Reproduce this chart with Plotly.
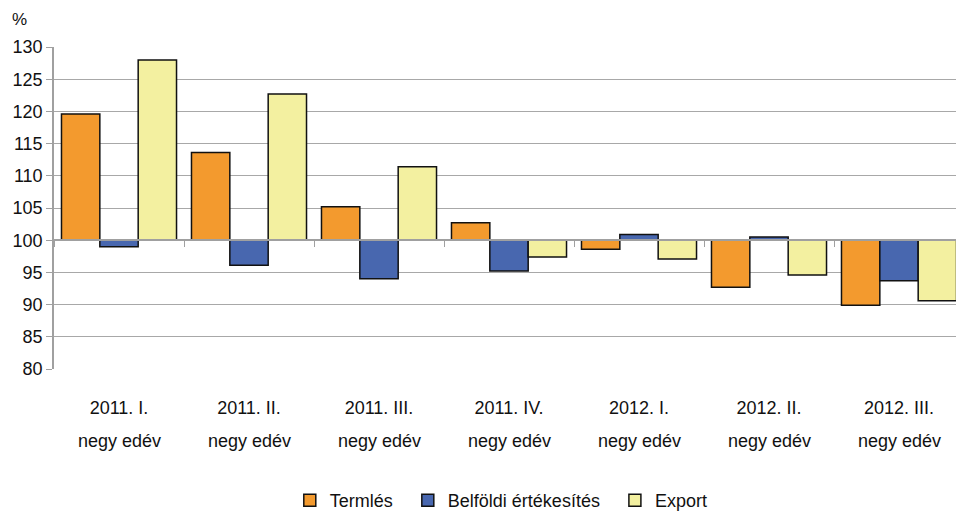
import plotly.graph_objects as go

categories = ["2011. I.", "2011. II.", "2011. III.", "2011. IV.", "2012. I.", "2012. II.", "2012. III."]
sub_label = "negy edév"
termeles = [119.6, 113.6, 105.2, 102.7, 98.6, 92.7, 89.9]
belfoldi = [99.0, 96.1, 94.0, 95.2, 100.9, 100.5, 93.7]
export = [128.0, 122.7, 111.4, 97.4, 97.1, 94.6, 90.6]
series_names = ["Termlés", "Belföldi értékesítés", "Export"]
colors = ["#F39A2E", "#4867AF", "#F3F0A0"]
base_value = 100
y_ticks = list(range(80, 131, 5))

FONT = "Liberation Sans, Arial, sans-serif"
PAD = "\u00a0\u00a0"

fig = go.Figure()
for i, (name, vals, col) in enumerate(zip(series_names, [termeles, belfoldi, export], colors)):
    fig.add_trace(go.Bar(
        x=categories, y=[v - base_value for v in vals], base=base_value,
        name=name + (PAD if i < len(series_names) - 1 else ""),
        marker=dict(color=col, line=dict(color="#111111", width=1.5)),
        customdata=vals, hovertemplate="%{x}: %{customdata}<extra>" + name + "</extra>",
    ))

for c in categories:
    fig.add_annotation(x=c, xref="x", y=0, yref="paper", yanchor="top",
                       text=sub_label, showarrow=False, yshift=-60,
                       font=dict(family=FONT, size=18, color="#111111"))

fig.add_annotation(x=0, xref="paper", xanchor="left", y=1, yref="paper", yanchor="middle",
                   text="%", showarrow=False, xshift=-44, yshift=28,
                   font=dict(family=FONT, size=17, color="#111111"))

fig.update_layout(
    width=956, height=511,
    margin=dict(l=46, r=0, t=39, b=150, autoexpand=False),
    paper_bgcolor="white", plot_bgcolor="white",
    barmode="group", bargap=0.115, bargroupgap=0,
    font=dict(family=FONT, size=18, color="#111111"),
    showlegend=True,
    legend=dict(orientation="h", xref="container", x=0.516, xanchor="center",
                yref="container", y=0.0, yanchor="bottom",
                font=dict(family=FONT, size=18, color="#111111"),
                itemwidth=30, traceorder="normal"),
    xaxis=dict(type="category", categoryorder="array", categoryarray=categories,
               showgrid=False, showline=False, ticks="", automargin=False,
               ticklabelstandoff=26, tickfont=dict(size=18)),
    xaxis2=dict(type="category", categoryorder="array", categoryarray=categories,
                overlaying="x", matches="x", anchor="free", position=0.4,
                showline=True, linecolor="#A0A0A0", linewidth=1.5, automargin=False,
                ticks="outside", tickson="boundaries", ticklen=6, tickcolor="#A0A0A0",
                showticklabels=False, showgrid=False),
    yaxis=dict(range=[80, 130], tickvals=y_ticks, showgrid=True, gridcolor="#A8A8A8",
               gridwidth=1, showline=True, linecolor="#A0A0A0", linewidth=1.5,
               ticks="outside", ticklen=6, tickcolor="#A0A0A0", zeroline=False,
               automargin=False, tickfont=dict(size=18)),
)
fig.add_trace(go.Scatter(x=categories, y=[None]*len(categories), xaxis="x2",
                         showlegend=False, hoverinfo="skip"))

fig.write_html("out.html")
